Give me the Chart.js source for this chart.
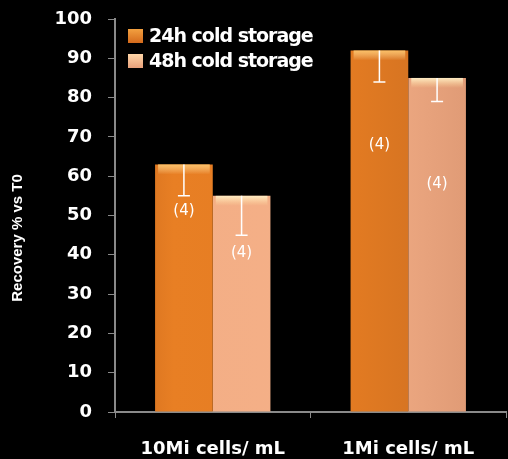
<!DOCTYPE html>
<html>
<head>
<meta charset="utf-8">
<script src="https://cdn.jsdelivr.net/npm/chart.js@4"></script>
<style>
  html, body { margin: 0; padding: 0; background: #000; }
  #wrap { width: 508px; height: 459px; }
</style>
</head>
<body>
<div id="wrap"><canvas id="chart"></canvas></div>
<script>
const categories = ["10Mi cells/ mL", "1Mi cells/ mL"];
const seriesNames = ["24h cold storage", "48h cold storage"];
const recovery24h = [63, 92];
const recovery48h = [55, 85];
// lower end of the (downward only) error bars
const errLow24h = [55, 84];
const errLow48h = [45, 79];
// "(4)" sample counts and the value height they sit at
const nCount = ["(4)", "(4)", "(4)", "(4)"];
const nLabelAt24h = [51, 68];
const nLabelAt48h = [40.5, 58];
const yTicks = [0, 10, 20, 30, 40, 50, 60, 70, 80, 90, 100];
const yTitle = "Recovery % vs T0";

const BOLD = "'DejaVu Sans', sans-serif";
const FONT = "'Liberation Sans', Arial, sans-serif";

function barFill(ctx, light) {
  const chart = ctx.chart;
  const area = chart.chartArea;
  if (!area) return light ? "#f2ab80" : "#e27a22";
  const el = ctx.element;
  const x0 = el && el.x ? el.x - el.width / 2 : area.left;
  const x1 = el && el.x ? el.x + el.width / 2 : area.right;
  const g = chart.ctx.createLinearGradient(x0, 0, x1, 0);
  if (light) {
    g.addColorStop(0, "#d9906a");
    g.addColorStop(0.15, "#f3ae85");
    g.addColorStop(0.6, "#f5b088");
    g.addColorStop(1, "#d99470");
  } else {
    g.addColorStop(0, "#cc6a1c");
    g.addColorStop(0.15, "#e87f24");
    g.addColorStop(0.6, "#e37b22");
    g.addColorStop(1, "#c46a22");
  }
  return g;
}

// error bars, top highlight, count labels, legend and axis title
const extras = {
  id: "extras",
  afterDatasetsDraw(chart) {
    const c = chart.ctx;
    const y = chart.scales.y;
    const lows = [errLow24h, errLow48h];
    const labAt = [nLabelAt24h, nLabelAt48h];
    c.save();
    chart.data.datasets.forEach((ds, di) => {
      chart.getDatasetMeta(di).data.forEach((bar, i) => {
        const top = bar.y;
        const left = bar.x - bar.width / 2;
        const hg = c.createLinearGradient(0, top, 0, top + 10);
        hg.addColorStop(0, di === 0 ? "rgba(255,200,110,0.9)" : "rgba(255,240,200,0.95)");
        hg.addColorStop(1, "rgba(255,220,160,0)");
        c.fillStyle = hg;
        c.fillRect(left + 3, top, bar.width - 6, 10);

        const yLow = y.getPixelForValue(lows[di][i]);
        c.strokeStyle = "#ffffff";
        c.lineWidth = 1.5;
        c.beginPath();
        c.moveTo(bar.x, top);
        c.lineTo(bar.x, yLow);
        c.moveTo(bar.x - 6, yLow);
        c.lineTo(bar.x + 6, yLow);
        c.stroke();

        c.fillStyle = "#ffffff";
        c.font = "15px 'DejaVu Sans', sans-serif";
        c.textAlign = "center";
        c.textBaseline = "middle";
        c.fillText(nCount[di * 2 + i], bar.x, y.getPixelForValue(labAt[di][i]));
      });
    });

    // legend
    const lx = 128, ly = [36, 61];
    c.font = "bold 19px " + BOLD;
    c.letterSpacing = "-1px";
    c.textAlign = "left";
    c.textBaseline = "middle";
    seriesNames.forEach((name, k) => {
      const sq = c.createLinearGradient(lx, ly[k] - 7, lx, ly[k] + 7);
      if (k === 0) {
        sq.addColorStop(0, "#f2a040");
        sq.addColorStop(1, "#d46a1c");
      } else {
        sq.addColorStop(0, "#ffd6a8");
        sq.addColorStop(1, "#e8a07a");
      }
      c.fillStyle = sq;
      c.fillRect(lx, ly[k] - 7, 15, 14);
      c.fillStyle = "#ffffff";
      c.fillText(name, lx + 21, ly[k] + 1);
    });

    // y axis title
    c.letterSpacing = "0px";
    c.translate(18, 238);
    c.rotate(-Math.PI / 2);
    c.font = "bold 15px " + FONT;
    c.textAlign = "center";
    c.fillText(yTitle, 0, 0);
    c.restore();
  }
};

new Chart(document.getElementById("chart"), {
  type: "bar",
  data: {
    labels: categories,
    datasets: [
      {
        label: seriesNames[0],
        data: recovery24h,
        backgroundColor: ctx => barFill(ctx, false),
        categoryPercentage: 0.59,
        barPercentage: 1.0
      },
      {
        label: seriesNames[1],
        data: recovery48h,
        backgroundColor: ctx => barFill(ctx, true),
        categoryPercentage: 0.59,
        barPercentage: 1.0
      }
    ]
  },
  options: {
    responsive: true,
    maintainAspectRatio: false,
    animation: false,
    layout: { padding: { top: 19, right: 2, left: 0, bottom: 0 } },
    plugins: { legend: { display: false }, tooltip: { enabled: false } },
    scales: {
      x: {
        grid: { display: true, drawOnChartArea: false, drawTicks: true, tickLength: 6, color: "#8a8a8a", offset: true },
        border: { color: "#8a8a8a", width: 2 },
        ticks: { color: "#ffffff", font: { family: BOLD, size: 18, weight: "bold" }, padding: 21 },
        afterFit(s) { s.height = 47; }
      },
      y: {
        min: 0,
        max: 100,
        afterBuildTicks(s) { s.ticks = yTicks.map(v => ({ value: v })); },
        grid: { display: true, drawOnChartArea: false, drawTicks: true, tickLength: 7, color: "#8a8a8a" },
        border: { color: "#8a8a8a", width: 2 },
        ticks: { color: "#ffffff", font: { family: BOLD, size: 18, weight: "bold" }, padding: 16 },
        afterFit(s) { s.width = 115; s.paddingTop = 0; s.paddingBottom = 0; }
      }
    }
  },
  plugins: [extras]
});
</script>
</body>
</html>
